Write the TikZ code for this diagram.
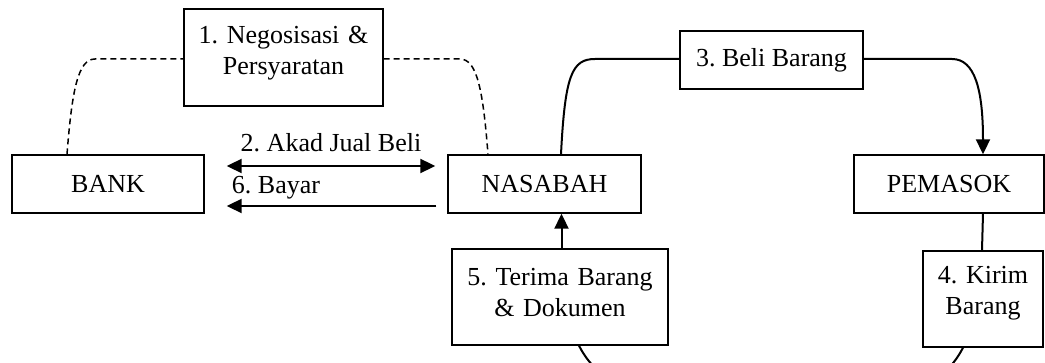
\documentclass[tikz,border=0pt]{standalone}
\usepackage{fontspec}
\setmainfont{Liberation Serif}
\usetikzlibrary{arrows.meta,calc}
\begin{document}
\frenchspacing
\begin{tikzpicture}[x=1pt,y=-1pt,
  txt/.style={font=\fontsize{26}{31}\selectfont\frenchspacing},
  box/.style={txt, draw, line width=1.4pt, inner sep=0pt},
  flow/.style={line width=2pt},
  tip/.style={-{Triangle[length=15pt,width=14pt]}},
  dline/.style={line width=1.5pt, dash pattern=on 6pt off 4pt}
]
\useasboundingbox (0,0) rectangle (1045,363);
\clip (0,0) rectangle (1045,363);

% nodes
\node[box, minimum width=192pt, minimum height=58pt] (bank) at (108,184) {BANK};
\node[box, minimum width=193pt, minimum height=58pt] (nas) at (544.5,184) {NASABAH};
\node[box, minimum width=190pt, minimum height=58pt] (pem) at (949,184) {PEMASOK};
\node[box, minimum width=183pt, minimum height=58pt] (beli) at (771.5,60) {3. Beli Barang};
\node[box, text width=199pt, align=center, text height=35pt, text depth=62pt] (neg) at (283.5,57.5) {1. Negosisasi \&\\Persyaratan};
\node[box, text width=216pt, align=center, text height=37pt, text depth=59pt] (ter) at (560,297) {5. Terima Barang\\\& Dokumen};
\node[box, text width=120pt, align=center, text height=33pt, text depth=63pt] (kir) at (983,299) {4. Kirim\\Barang};

% labels
\node[txt, anchor=base] (lakad) at (331,152) {2. Akad Jual Beli};
\node[txt, anchor=base] (lbayar) at (276,194) {6. Bayar};

% dashed connectors
\draw[dline] ($(bank.north)+(-41,0)$) .. controls (72,90) and (78,59) .. (95,59) -- ($(neg.west)+(0,1.5)$);
\draw[dline] ($(neg.east)+(0,1.5)$) -- (460,59) .. controls (477,59) and (483,90) .. ($(nas.north)+(-56.5,0)$);

% solid connectors
\draw[flow] ($(nas.north)+(16.5,0)$) .. controls (565,75) and (572,59) .. (595,59) -- ($(beli.west)+(0,-1)$);
\draw[flow, tip] ($(beli.east)+(0,-1)$) -- (952,59) .. controls (975,59) and (983,90) .. ($(pem.north)+(34,0)$);
\draw[flow, {Triangle[length=15pt,width=14pt]}-{Triangle[length=15pt,width=14pt]}] ($(bank.east)+(22,-18)$) -- ($(nas.west)+(-12,-18)$);
\draw[flow, tip] ($(nas.west)+(-11,22)$) -- ($(bank.east)+(22,22)$);
\draw[flow, tip] ($(ter.north)+(1.5,0)$) -- ($(nas.south)+(17,0)$);
\draw[flow] ($(pem.south)+(34,0)$) -- ($(kir.north)+(-1,0)$);
\draw[flow] ($(kir.south)+(-20,0)$) .. controls (952,369) and (935,385) .. (905,385) -- (640,385) .. controls (610,385) and (591,369) .. ($(ter.south)+(19,0)$);
\end{tikzpicture}
\end{document}
